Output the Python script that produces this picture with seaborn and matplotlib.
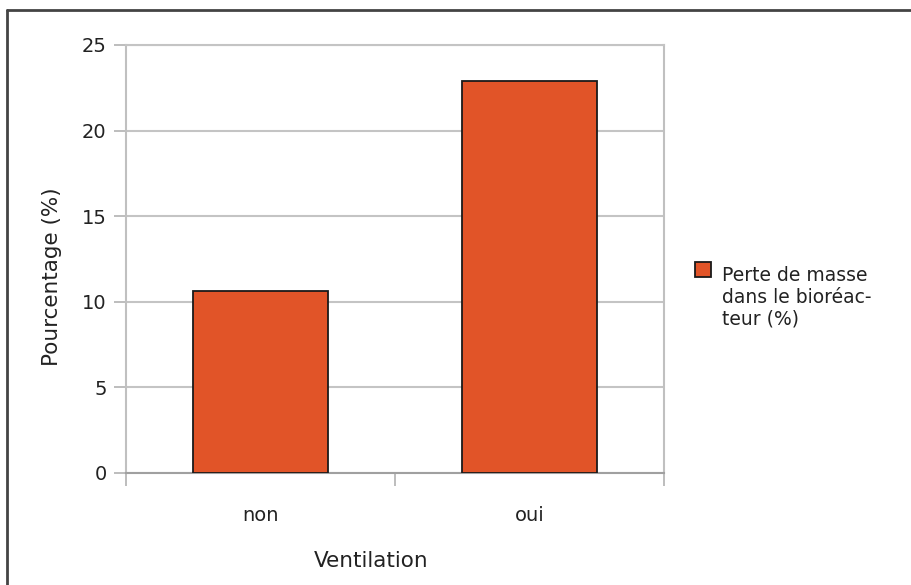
import matplotlib
matplotlib.use("Agg")
import matplotlib.pyplot as plt
from matplotlib.patches import Patch, Rectangle
from matplotlib.lines import Line2D
from matplotlib.legend_handler import HandlerPatch
import seaborn as sns
import pandas as pd

categories = ["non", "oui"]
values = [10.65, 22.9]
series_label = "Perte de masse\ndans le bioréac-\nteur (%)"
y_ticks = [0, 5, 10, 15, 20, 25]

sns.set_style("white")
plt.rcParams["font.family"] = ["DejaVu Sans"]

bar_color = "#E15428"
text_color = "#222222"
legend_fontsize = 13.5


class TopAlignedPatch(HandlerPatch):
    """Legend key placed next to the first line of a multi-line label."""

    def __init__(self, shift, **kw):
        super().__init__(**kw)
        self.shift = shift

    def create_artists(self, legend, orig_handle, xdescent, ydescent,
                       width, height, fontsize, trans):
        p = Rectangle((-xdescent, -ydescent + self.shift), width, height)
        self.update_prop(p, orig_handle, legend)
        p.set_transform(trans)
        return [p]


fig = plt.figure(figsize=(9.11, 5.85), dpi=100)
ax = fig.add_axes([126 / 911, 1 - 473 / 585, 538 / 911, 428 / 585])

df = pd.DataFrame({"Ventilation": categories, "value": values})
sns.barplot(data=df, x="Ventilation", y="value", color=bar_color,
            saturation=1, width=0.505, edgecolor="#1a1a1a", linewidth=1.3,
            ax=ax, zorder=3)

ax.set_xlim(-0.5, 1.5)
ax.set_ylim(0, 25)
ax.set_yticks(y_ticks)
ax.set_yticklabels([str(t) for t in y_ticks], fontsize=14, color=text_color)
ax.yaxis.grid(True, color="#c4c4c4", linewidth=1.5, zorder=0)
ax.set_axisbelow(True)

# category labels centred under bars, tick marks between categories
ax.set_xticks([0, 1])
ax.set_xticklabels(categories, fontsize=14, color=text_color)
ax.tick_params(axis="x", which="major", length=0, pad=24)
ax.set_xticks([-0.5, 0.5, 1.5], minor=True)
ax.tick_params(axis="x", which="minor", length=9, width=1.3, color="#b8b8b8",
               direction="out", bottom=True)
ax.tick_params(axis="y", length=9, width=1.3, color="#b8b8b8", pad=5, left=True)

for side in ["left", "right"]:
    ax.spines[side].set_color("#c0c0c0")
    ax.spines[side].set_linewidth(1.5)
ax.spines["bottom"].set_color("#a0a0a0")
ax.spines["bottom"].set_linewidth(1.5)
ax.spines["top"].set_color("#c4c4c4")
ax.spines["top"].set_linewidth(1.5)
ax.spines["right"].set_visible(True)
ax.spines["top"].set_visible(True)

ax.set_xlabel("Ventilation", fontsize=15.5, color=text_color)
ax.xaxis.set_label_coords((371 - 126) / 538, (473 - 551) / 428)
ax.set_ylabel("Pourcentage (%)", fontsize=15.5, color=text_color)
ax.yaxis.set_label_coords((62 - 126) / 538, (473 - 277) / 428)

handle = Patch(facecolor=bar_color, edgecolor="#1a1a1a", linewidth=1.3)
fig.legend(handles=[handle], labels=[series_label], loc="upper left",
           bbox_to_anchor=(695 / 911, 1 - 266 / 585), frameon=False,
           fontsize=legend_fontsize, handlelength=0.85, handleheight=0.85,
           handletextpad=0.6, borderaxespad=0, borderpad=0,
           labelcolor=text_color,
           handler_map={Patch: TopAlignedPatch(shift=1.2 * legend_fontsize + 5)})

# outer frame lines on the top and left edges
fig.add_artist(Line2D([7 / 911, 1], [1 - 10 / 585, 1 - 10 / 585],
                      transform=fig.transFigure, color="#444444", linewidth=2))
fig.add_artist(Line2D([7 / 911, 7 / 911], [0, 1 - 10 / 585],
                      transform=fig.transFigure, color="#444444", linewidth=2))

fig.savefig("out.png", dpi=100)
